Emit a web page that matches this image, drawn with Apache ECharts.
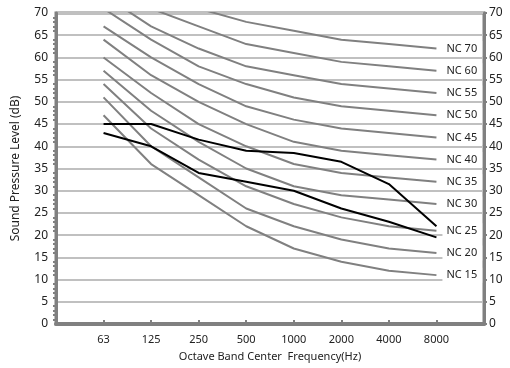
<!DOCTYPE html>
<html>
<head>
<meta charset="utf-8">
<script src="https://cdn.jsdelivr.net/npm/echarts@6/dist/echarts.min.js"></script>
<style>
  html, body { margin: 0; padding: 0; background: #fff; }
  #chart { width: 510px; height: 368px; }
</style>
</head>
<body>
<div id="chart"></div>
<script>
// octave bands, padded with an empty slot at each end
const bands = ['', '63', '125', '250', '500', '1000', '2000', '4000', '8000', ''];

// NC curves, labels as printed on the chart
const ncLabels = ['NC 70', 'NC 60', 'NC 55', 'NC 50', 'NC 45', 'NC 40', 'NC 35', 'NC 30', 'NC 25', 'NC 20', 'NC 15'];
const ncValues = [
  [80, 75, 71, 68, 66, 64, 63, 62],
  [77, 71, 67, 63, 61, 59, 58, 57],
  [74, 67, 62, 58, 56, 54, 53, 52],
  [71, 64, 58, 54, 51, 49, 48, 47],
  [67, 60, 54, 49, 46, 44, 43, 42],
  [64, 56, 50, 45, 41, 39, 38, 37],
  [60, 52, 45, 40, 36, 34, 33, 32],
  [57, 48, 41, 35, 31, 29, 28, 27],
  [54, 44, 37, 31, 27, 24, 22, 21],
  [51, 40, 33, 26, 22, 19, 17, 16],
  [47, 36, 29, 22, 17, 14, 12, 11]
];

const highValues = [45, 45, 41.5, 39, 38.5, 36.5, 31.5, 22];
const lowValues = [43, 40, 34, 32, 30, 26, 23, 19.5];

const FONT = 'Noto Sans';
const GRAY = '#808080';

const chart = echarts.init(document.getElementById('chart'));

const ncSeries = ncLabels.map((name, i) => ({
  name,
  type: 'line',
  data: ['-'].concat(ncValues[i]),
  symbol: 'none',
  lineStyle: { color: GRAY, width: 2 },
  z: 2,
  endLabel: {
    show: true,
    formatter: name,
    distance: 6,
    color: '#222',
    fontFamily: FONT,
    fontSize: 11,
    backgroundColor: '#fff',
    padding: [2, 5, 2, 4]
  }
}));

function startLabel(text, offsetY) {
  return {
    show: true,
    position: 'left',
    distance: 21,
    offset: [0, offsetY],
    color: '#222',
    fontFamily: FONT,
    fontSize: 11,
    formatter: p => (p.dataIndex === 1 ? text : '')
  };
}

const option = {
  animation: false,
  backgroundColor: '#fff',
  grid: {
    left: 56,
    right: 26,
    top: 13,
    bottom: 44,
    show: true,
    borderColor: GRAY,
    borderWidth: 3
  },
  xAxis: {
    type: 'category',
    data: bands,
    boundaryGap: false,
    name: 'Octave Band Center  Frequency(Hz)',
    nameLocation: 'middle',
    nameGap: 27,
    nameTextStyle: { color: '#222', fontFamily: FONT, fontSize: 11 },
    axisLine: { lineStyle: { color: GRAY, width: 4 } },
    axisTick: { show: true, inside: true, length: 4, lineStyle: { color: GRAY, width: 2 } },
    axisLabel: { color: '#222', fontFamily: FONT, fontSize: 11, margin: 10 },
    splitLine: { show: false }
  },
  yAxis: [
    {
      type: 'value',
      min: 0,
      max: 70,
      interval: 5,
      name: 'Sound Pressure Level (dB)',
      nameLocation: 'middle',
      nameGap: 34,
      nameTextStyle: { color: '#222', fontFamily: FONT, fontSize: 12 },
      axisLine: { show: true, lineStyle: { color: GRAY, width: 3 } },
      axisTick: { show: false },
      minorTick: { show: true, splitNumber: 5, length: 3, lineStyle: { color: GRAY, width: 2 } },
      axisLabel: { color: '#222', fontFamily: FONT, fontSize: 12, margin: 8 },
      splitLine: { lineStyle: { color: '#c0c0c0', width: 2 } }
    },
    {
      type: 'value',
      position: 'right',
      min: 0,
      max: 70,
      interval: 5,
      axisLine: { show: true, lineStyle: { color: GRAY, width: 3 } },
      axisTick: { show: true, length: 3, lineStyle: { color: GRAY, width: 2 } },
      axisLabel: { color: '#222', fontFamily: FONT, fontSize: 12, margin: 5 },
      splitLine: { show: false }
    }
  ],
  series: ncSeries.concat([
    {
      name: 'High',
      type: 'line',
      data: ['-'].concat(highValues),
      symbol: 'none',
      lineStyle: { color: '#000', width: 2 },
      z: 3,
      label: startLabel('High', -7)
    },
    {
      name: 'Low',
      type: 'line',
      data: ['-'].concat(lowValues),
      symbol: 'none',
      lineStyle: { color: '#000', width: 2 },
      z: 3,
      label: startLabel('Low', 2)
    }
  ])
};

chart.setOption(option);
</script>
</body>
</html>
